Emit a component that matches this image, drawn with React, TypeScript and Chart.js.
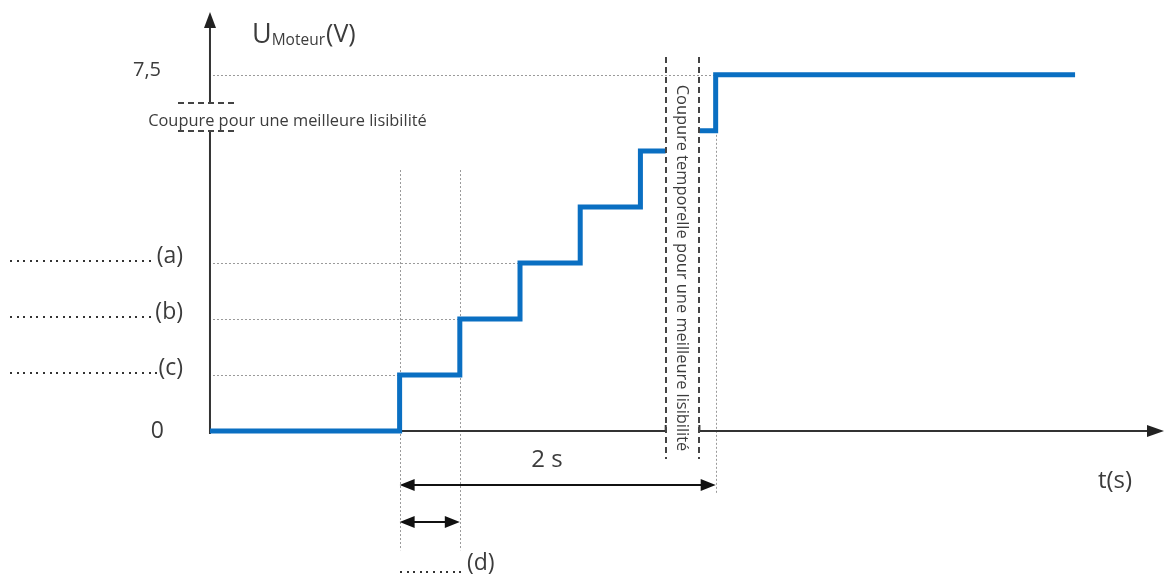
import React, { useEffect, useRef } from 'react';
import { Chart, registerables } from 'chart.js';

Chart.register(...registerables);

// ---- data (schematic units: x = step periods, y = step levels) ----
const stepTimes = [0, 3.15, 4.15, 5.15, 6.15, 7.15, 7.57];
const stepLevels = [0, 1, 2, 3, 4, 5, 5];
const afterCutTimes = [8.13, 8.4, 14.37];
const afterCutLevels = [5.36, 6.36, 6.36];

const levelLabels = ['(c)', '(b)', '(a)'];
const levelLabelValues = [1, 2, 3];
const levelGuideEnds = [3.15, 4.15, 5.15];
const topValueLabel = '7,5';
const topLevel = 6.36;
const topGuideEnd = 8.4;
const zeroLabel = '0';

const timeCut = [7.57, 8.13];
const levelCut = [5.357, 5.857];
const periodSpan = [3.15, 4.15];
const twoSecondSpan = [3.15, 8.4];

const yAxisTitleMain = 'U';
const yAxisTitleSub = 'Moteur';
const yAxisTitleUnit = '(V)';
const xAxisTitle = 't(s)';
const twoSecondLabel = '2 s';
const periodLabel = '(d)';
const levelCutText = 'Coupure pour une meilleure lisibilité';
const timeCutText = 'Coupure temporelle pour une meilleure lisibilité';

const FONT = '"Open Sans", Lato, sans-serif';
const TEXT = '#3c3c3c';
const BLUE = '#0a6fc2';

const toPoints = (xs: number[], ys: number[]) => xs.map((x, i) => ({ x, y: ys[i] }));

const fitFont = (ctx: CanvasRenderingContext2D, text: string, width: number) => {
  ctx.font = `20px ${FONT}`;
  const w = ctx.measureText(text).width;
  ctx.font = `${(20 * width) / w}px ${FONT}`;
};

const diagramPlugin = {
  id: 'diagram',
  beforeDatasetsDraw(chart: any) {
    const ctx = chart.ctx as CanvasRenderingContext2D;
    const px = (v: number) => chart.scales.x.getPixelForValue(v);
    const py = (v: number) => chart.scales.y.getPixelForValue(v);
    ctx.save();
    // dotted guides
    ctx.strokeStyle = '#9a9a9a';
    ctx.lineWidth = 1;
    ctx.setLineDash([2, 2]);
    const hl = (x1: number, x2: number, y: number) => {
      ctx.beginPath(); ctx.moveTo(px(x1), Math.round(py(y)) + 0.5); ctx.lineTo(px(x2), Math.round(py(y)) + 0.5); ctx.stroke();
    };
    const vl = (x: number, y1: number, y2: number) => {
      ctx.beginPath(); ctx.moveTo(Math.round(px(x)) + 0.5, py(y1)); ctx.lineTo(Math.round(px(x)) + 0.5, py(y2)); ctx.stroke();
    };
    levelLabelValues.forEach((lv, i) => hl(0.05, levelGuideEnds[i], lv));
    hl(0.05, topGuideEnd, topLevel);
    vl(periodSpan[0], 4.66, -2.13);
    vl(periodSpan[1], 4.66, -2.13);
    vl(twoSecondSpan[1], afterCutLevels[0], -1.14);
    ctx.setLineDash([]);

    // axes
    ctx.strokeStyle = '#333';
    ctx.fillStyle = '#222';
    ctx.lineWidth = 2;
    const x0 = px(0);
    const y0 = py(0);
    // y axis (broken)
    ctx.beginPath();
    ctx.moveTo(x0, y0 + 3); ctx.lineTo(x0, py(levelCut[0]));
    ctx.moveTo(x0, py(levelCut[1])); ctx.lineTo(x0, 26);
    ctx.stroke();
    ctx.beginPath();
    ctx.moveTo(x0, 12); ctx.lineTo(x0 - 6, 28); ctx.lineTo(x0 + 6, 28); ctx.closePath(); ctx.fill();
    // x axis (broken)
    ctx.beginPath();
    ctx.moveTo(x0, y0); ctx.lineTo(px(timeCut[0]), y0); ctx.lineTo(px(timeCut[0]), y0 - 6);
    ctx.moveTo(px(timeCut[1]), y0 - 6); ctx.lineTo(px(timeCut[1]), y0); ctx.lineTo(1150, y0);
    ctx.stroke();
    ctx.beginPath();
    ctx.moveTo(1164, y0); ctx.lineTo(1147, y0 - 6); ctx.lineTo(1147, y0 + 6); ctx.closePath(); ctx.fill();
    ctx.restore();
  },
  afterDatasetsDraw(chart: any) {
    const ctx = chart.ctx as CanvasRenderingContext2D;
    const px = (v: number) => chart.scales.x.getPixelForValue(v);
    const py = (v: number) => chart.scales.y.getPixelForValue(v);
    ctx.save();
    // level cut dashes on y axis
    ctx.strokeStyle = '#444';
    ctx.lineWidth = 2;
    ctx.setLineDash([6, 4]);
    levelCut.forEach((lv) => {
      const y = Math.round(py(lv));
      ctx.beginPath(); ctx.moveTo(178, y); ctx.lineTo(234, y); ctx.stroke();
    });
    // time cut dashed verticals
    ctx.setLineDash([6, 4]);
    timeCut.forEach((t) => {
      const x = Math.round(px(t));
      ctx.beginPath(); ctx.moveTo(x, 57); ctx.lineTo(x, 459); ctx.stroke();
    });
    ctx.setLineDash([]);

    // dimension arrows
    ctx.strokeStyle = '#111';
    ctx.fillStyle = '#111';
    ctx.lineWidth = 2;
    const dimArrow = (x1: number, x2: number, y: number) => {
      const a = px(x1), b = px(x2);
      ctx.beginPath(); ctx.moveTo(a + 8, y); ctx.lineTo(b - 8, y); ctx.stroke();
      ctx.beginPath(); ctx.moveTo(a, y); ctx.lineTo(a + 15, y - 6); ctx.lineTo(a + 15, y + 6); ctx.closePath(); ctx.fill();
      ctx.beginPath(); ctx.moveTo(b, y); ctx.lineTo(b - 15, y - 6); ctx.lineTo(b - 15, y + 6); ctx.closePath(); ctx.fill();
    };
    dimArrow(twoSecondSpan[0], twoSecondSpan[1], 485);
    dimArrow(periodSpan[0], periodSpan[1], 522);

    const dots = (from: number, to: number, y: number) => {
      ctx.fillStyle = '#333';
      for (let d = from; d < to; d += 6.6) ctx.fillRect(Math.round(d), y, 2, 2);
      ctx.fillStyle = TEXT;
    };

    // texts
    ctx.fillStyle = TEXT;
    // y title with subscript
    ctx.textAlign = 'left';
    ctx.textBaseline = 'alphabetic';
    ctx.font = `27px ${FONT}`;
    let tx = 252;
    ctx.fillText(yAxisTitleMain, tx, 43);
    tx += ctx.measureText(yAxisTitleMain).width;
    ctx.font = `15.5px ${FONT}`;
    ctx.fillText(yAxisTitleSub, tx, 45);
    tx += ctx.measureText(yAxisTitleSub).width + 1;
    ctx.font = `25px ${FONT}`;
    ctx.fillText(yAxisTitleUnit, tx, 42);

    ctx.textBaseline = 'middle';
    ctx.textAlign = 'right';
    ctx.font = `20px ${FONT}`;
    ctx.fillText(topValueLabel, 161, py(topLevel) - 5);
    ctx.font = `23px ${FONT}`;
    ctx.fillText(zeroLabel, 164, py(0));
    levelLabelValues.forEach((lv, i) => {
      ctx.textAlign = 'right';
      ctx.font = `23px ${FONT}`;
      ctx.fillText(levelLabels[i], 183, py(lv) - 7);
      const w = ctx.measureText(levelLabels[i]).width;
      dots(10, 183 - w - 2, Math.round(py(lv)) - 3);
    });

    ctx.textAlign = 'center';
    fitFont(ctx, levelCutText, 279);
    ctx.fillText(levelCutText, 287.5, 121);

    ctx.font = `24px ${FONT}`;
    ctx.fillText(twoSecondLabel, 547, 460);
    ctx.fillText(xAxisTitle, 1115, 481);
    ctx.textAlign = 'left';
    ctx.font = `23px ${FONT}`;
    ctx.fillText(periodLabel, 467, 563);
    dots(400, 466, 571);

    // rotated cut label
    ctx.save();
    ctx.translate((px(timeCut[0]) + px(timeCut[1])) / 2 - 1, 268);
    ctx.rotate(Math.PI / 2);
    ctx.textAlign = 'center';
    fitFont(ctx, timeCutText, 367);
    ctx.fillText(timeCutText, 0, 0);
    ctx.restore();

    ctx.restore();
  },
};

export default function App() {
  const ref = useRef<HTMLCanvasElement | null>(null);
  useEffect(() => {
    if (!ref.current) return;
    const ds = (xs: number[], ys: number[]) => ({
      data: toPoints(xs, ys),
      borderColor: BLUE,
      borderWidth: 5,
      pointRadius: 0,
      stepped: true,
      fill: false,
      borderCapStyle: 'butt' as const,
      borderJoinStyle: 'miter' as const,
    });
    const chart = new Chart(ref.current, {
      type: 'line',
      data: { datasets: [ds(stepTimes, stepLevels), ds(afterCutTimes, afterCutLevels)] },
      options: {
        animation: false,
        responsive: false,
        devicePixelRatio: 1,
        layout: { padding: 0 },
        events: [],
        plugins: { legend: { display: false }, tooltip: { enabled: false } },
        scales: {
          x: { type: 'linear', min: -3.488, max: 15.947, display: false },
          y: { type: 'linear', min: -2.643, max: 7.696, display: false },
        },
      },
      plugins: [diagramPlugin],
    });
    return () => chart.destroy();
  }, []);
  return (
    <div style={{ position: 'absolute', left: 0, top: 0, width: 1170, height: 579, background: '#fff' }}>
      <canvas ref={ref} width={1170} height={579} style={{ display: 'block' }} />
    </div>
  );
}
